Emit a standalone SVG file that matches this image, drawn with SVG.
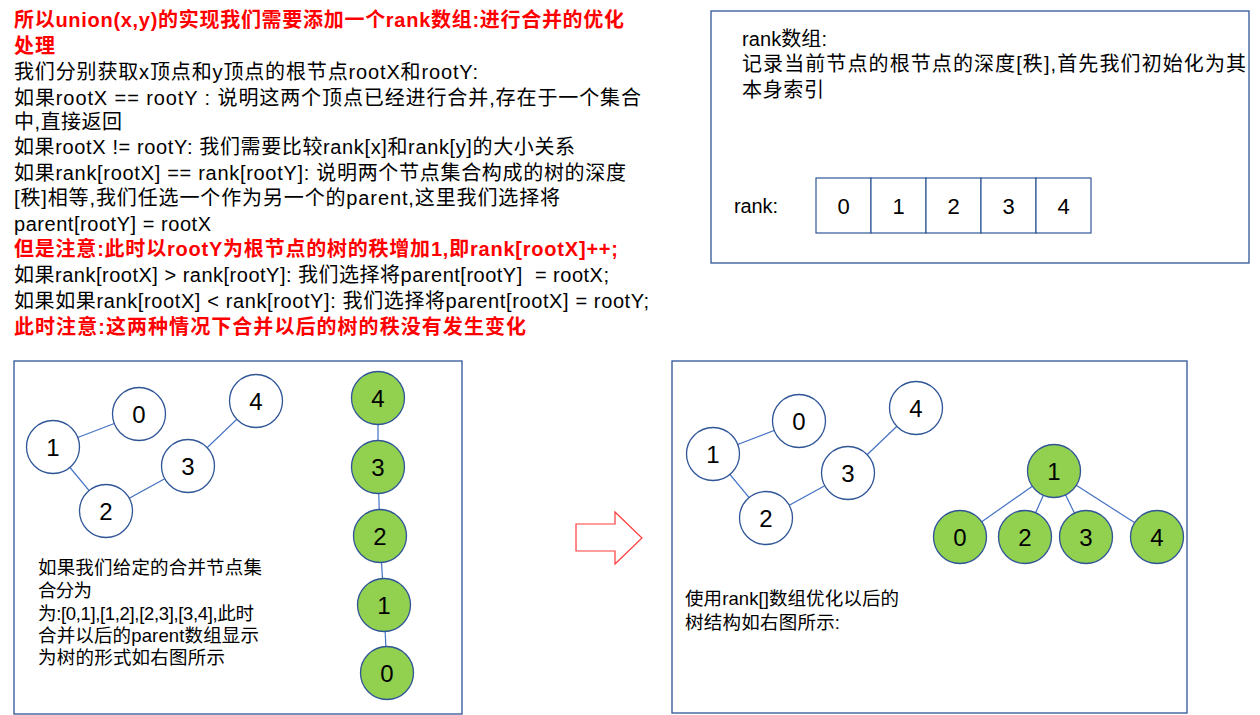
<svg xmlns="http://www.w3.org/2000/svg" width="1260" height="715" viewBox="0 0 1260 715">
<style>
.t{font-family:"Liberation Sans","Noto Sans CJK SC",sans-serif;font-size:20px;fill:#000}
.r{fill:#FF0000;font-weight:bold}
.s{font-size:18.5px}
.box{fill:#fff;stroke:#2F5597;stroke-width:1.3}
.c{fill:#fff;stroke:#2F5597;stroke-width:1.3}
.g{fill:#92D050;stroke:#2F5597;stroke-width:1.3}
.d{font-family:"Liberation Sans",Arial,sans-serif;font-size:24px;fill:#000;text-anchor:middle}
.e{stroke:#4472C4;stroke-width:1.2;fill:none}
.cell{fill:#fff;stroke:#2F5597;stroke-width:1.2}
.cd{font-family:"Liberation Sans",Arial,sans-serif;font-size:22px;fill:#000;text-anchor:middle}
</style>
<rect width="1260" height="715" fill="#fff"/>
<g id="main-text">
<text class="t r" x="14" y="27" textLength="610">所以union(x,y)的实现我们需要添加一个rank数组:进行合并的优化</text>
<text class="t r" x="14" y="53" textLength="41">处理</text>
<text class="t" x="14" y="79" textLength="464">我们分别获取x顶点和y顶点的根节点rootX和rootY:</text>
<text class="t" x="14" y="105" textLength="627">如果rootX == rootY : 说明这两个顶点已经进行合并,存在于一个集合</text>
<text class="t" x="14" y="129" textLength="108">中,直接返回</text>
<text class="t" x="14" y="154" textLength="561">如果rootX != rootY: 我们需要比较rank[x]和rank[y]的大小关系</text>
<text class="t" x="14" y="180" textLength="612">如果rank[rootX] == rank[rootY]: 说明两个节点集合构成的树的深度</text>
<text class="t" x="14" y="205" textLength="546">[秩]相等,我们任选一个作为另一个的parent,这里我们选择将</text>
<text class="t" x="14" y="231" textLength="197">parent[rootY] = rootX</text>
<text class="t r" x="14" y="256" textLength="604">但是注意:此时以rootY为根节点的树的秩增加1,即rank[rootX]++;</text>
<text class="t" x="14" y="282" textLength="595" xml:space="preserve">如果rank[rootX] &gt; rank[rootY]: 我们选择将parent[rootY]  = rootX;</text>
<text class="t" x="14" y="308" textLength="635">如果如果rank[rootX] &lt; rank[rootY]: 我们选择将parent[rootX] = rootY;</text>
<text class="t r" x="14" y="334" textLength="512">此时注意:这两种情况下合并以后的树的秩没有发生变化</text>
</g>
<g id="rank-box">
<rect class="box" x="711" y="11" width="538" height="252"/>
<text class="t" x="742" y="46" textLength="85">rank数组:</text>
<text class="t" x="742" y="71" textLength="504">记录当前节点的根节点的深度[秩],首先我们初始化为其</text>
<text class="t" x="742" y="97" textLength="82">本身索引</text>
<text class="t" x="734" y="213" textLength="44">rank:</text>
<rect class="cell" x="816" y="178" width="55" height="55"/>
<rect class="cell" x="871" y="178" width="55" height="55"/>
<rect class="cell" x="926" y="178" width="55" height="55"/>
<rect class="cell" x="981" y="178" width="55" height="55"/>
<rect class="cell" x="1036" y="178" width="55" height="55"/>
<text class="cd" x="843.5" y="214">0</text>
<text class="cd" x="898.5" y="214">1</text>
<text class="cd" x="953.5" y="214">2</text>
<text class="cd" x="1008.5" y="214">3</text>
<text class="cd" x="1063.5" y="214">4</text>
</g>
<g id="left-box">
<rect class="box" x="14" y="361" width="448" height="353"/>
<text class="t s" x="38" y="574" textLength="224">如果我们给定的合并节点集</text>
<text class="t s" x="38" y="597" textLength="54">合分为</text>
<text class="t s" x="38" y="620" textLength="216">为:[0,1],[1,2],[2,3],[3,4],此时</text>
<text class="t s" x="38" y="642" textLength="221">合并以后的parent数组显示</text>
<text class="t s" x="38" y="664" textLength="187">为树的形式如右图所示</text>
</g>
<g id="right-box">
<rect class="box" x="672" y="361" width="515" height="352"/>
<text class="t s" x="685" y="605" textLength="214">使用rank[]数组优化以后的</text>
<text class="t s" x="685" y="629" textLength="155">树结构如右图所示:</text>
</g>
<g id="arrow">
<polygon points="576,524 615,524 615,512 642,538 615,564 615,551 576,551" fill="#fff" stroke="#FF3B3B" stroke-width="1.2"/>
</g>
<g id="connectors">
<line class="e" x1="53" y1="447" x2="139" y2="414"/>
<line class="e" x1="53" y1="447" x2="106" y2="511"/>
<line class="e" x1="106" y1="511" x2="188" y2="466"/>
<line class="e" x1="188" y1="466" x2="256" y2="401"/>
<line class="e" x1="378" y1="398" x2="378" y2="467"/>
<line class="e" x1="378" y1="467" x2="380" y2="536"/>
<line class="e" x1="380" y1="536" x2="384" y2="605"/>
<line class="e" x1="384" y1="605" x2="387" y2="673"/>
<line class="e" x1="713" y1="454" x2="799" y2="421"/>
<line class="e" x1="713" y1="454" x2="766" y2="518"/>
<line class="e" x1="766" y1="518" x2="848" y2="473"/>
<line class="e" x1="848" y1="473" x2="916" y2="408"/>
<line class="e" x1="1054" y1="471" x2="960" y2="537"/>
<line class="e" x1="1054" y1="471" x2="1025" y2="537"/>
<line class="e" x1="1054" y1="471" x2="1086" y2="537"/>
<line class="e" x1="1054" y1="471" x2="1157" y2="537"/>
</g>
<g id="L0"><circle class="c" cx="139" cy="414" r="26.5"/><text class="d" x="139" y="423">0</text></g>
<g id="L1"><circle class="c" cx="53" cy="447" r="26.5"/><text class="d" x="53" y="456">1</text></g>
<g id="L2"><circle class="c" cx="106" cy="511" r="26.5"/><text class="d" x="106" y="520">2</text></g>
<g id="L3"><circle class="c" cx="188" cy="466" r="26.5"/><text class="d" x="188" y="475">3</text></g>
<g id="L4"><circle class="c" cx="256" cy="401" r="26.5"/><text class="d" x="256" y="410">4</text></g>
<g id="C4"><circle class="g" cx="378" cy="398" r="26.5"/><text class="d" x="378" y="407">4</text></g>
<g id="C3"><circle class="g" cx="378" cy="467" r="26.5"/><text class="d" x="378" y="476">3</text></g>
<g id="C2"><circle class="g" cx="380" cy="536" r="26.5"/><text class="d" x="380" y="545">2</text></g>
<g id="C1"><circle class="g" cx="384" cy="605" r="26.5"/><text class="d" x="384" y="614">1</text></g>
<g id="C0"><circle class="g" cx="387" cy="673" r="26.5"/><text class="d" x="387" y="682">0</text></g>
<g id="R0"><circle class="c" cx="799" cy="421" r="26.5"/><text class="d" x="799" y="430">0</text></g>
<g id="R1"><circle class="c" cx="713" cy="454" r="26.5"/><text class="d" x="713" y="463">1</text></g>
<g id="R2"><circle class="c" cx="766" cy="518" r="26.5"/><text class="d" x="766" y="527">2</text></g>
<g id="R3"><circle class="c" cx="848" cy="473" r="26.5"/><text class="d" x="848" y="482">3</text></g>
<g id="R4"><circle class="c" cx="916" cy="408" r="26.5"/><text class="d" x="916" y="417">4</text></g>
<g id="T1"><circle class="g" cx="1054" cy="471" r="26.5"/><text class="d" x="1054" y="480">1</text></g>
<g id="T0"><circle class="g" cx="960" cy="537" r="26.5"/><text class="d" x="960" y="546">0</text></g>
<g id="T2"><circle class="g" cx="1025" cy="537" r="26.5"/><text class="d" x="1025" y="546">2</text></g>
<g id="T3"><circle class="g" cx="1086" cy="537" r="26.5"/><text class="d" x="1086" y="546">3</text></g>
<g id="T4"><circle class="g" cx="1157" cy="537" r="26.5"/><text class="d" x="1157" y="546">4</text></g>
</svg>
